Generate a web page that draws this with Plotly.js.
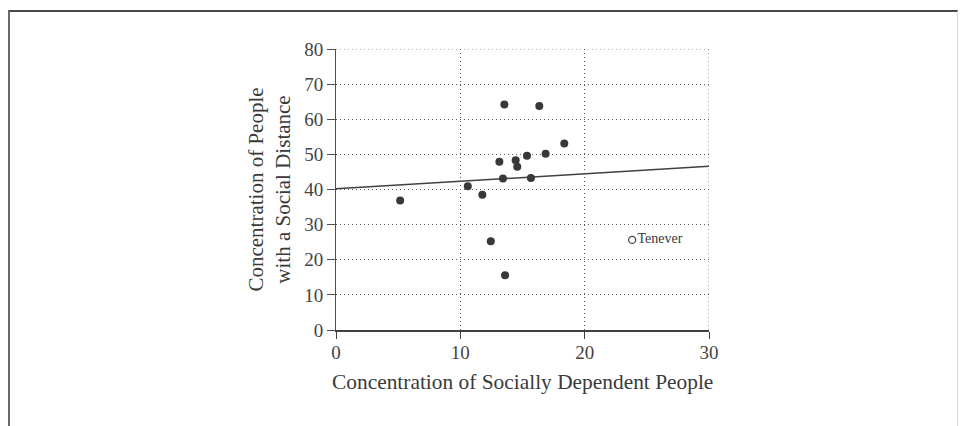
<!DOCTYPE html>
<html>
<head>
<meta charset="utf-8">
<script src="https://cdn.plot.ly/plotly-3.0.1.min.js"></script>
<style>
  html, body { margin: 0; padding: 0; background: #ffffff; }
  #wrap { position: relative; width: 960px; height: 426px; overflow: hidden; }
  #chart { position: absolute; left: 0; top: 0; width: 960px; height: 426px; }
  #frame { position: absolute; left: 8px; top: 10px; width: 947px; height: 430px;
           border-top: 2px solid #4a4a4a; border-left: 2px solid #6a6a6a; border-right: 1px solid #d8d8d8;
           pointer-events: none; }
</style>
</head>
<body>
<div id="wrap">
  <div id="chart"></div>
  <div id="frame"></div>
</div>
<script>
// Districts: concentration of socially dependent people (x) vs. people with a social distance (y)
const dependentPct = [5.16, 10.6, 11.77, 12.45, 13.14, 13.43, 13.54, 13.6, 14.45, 14.58, 15.36, 15.68, 16.35, 16.86, 18.36];
const distancePct  = [36.9, 40.95, 38.5, 25.3, 47.9, 43.1, 64.2, 15.6, 48.3, 46.5, 49.6, 43.3, 63.8, 50.2, 53.1];

// Highlighted district
const teneverName = ["Tenever"];
const teneverX = [23.82];
const teneverY = [25.65];

// Regression line end points
const fitX = [0, 30];
const fitY = [40.2, 46.6];

// Axis ticks and titles
const xTicks = [0, 10, 20, 30];
const yTicks = [0, 10, 20, 30, 40, 50, 60, 70, 80];
const xTitle = 'Concentration of Socially Dependent People';
const yTitle = 'Concentration of People<br>with a Social Distance';

const serif = "'Liberation Serif', 'Times New Roman', serif";
const ink = '#3a3a3a';
const gridColor = '#5e5e5e';
const gridDash = '1px,3px';

const margin = { l: 336, r: 251, t: 49, b: 96, pad: 0 };
const plotH = 426 - margin.t - margin.b;

const traces = [
  {
    x: fitX, y: fitY, type: 'scatter', mode: 'lines',
    line: { color: '#404040', width: 1.5 }, hoverinfo: 'skip'
  },
  {
    x: dependentPct, y: distancePct, type: 'scatter', mode: 'markers',
    marker: { color: '#383838', size: 8, line: { width: 0 } }
  },
  {
    x: teneverX, y: teneverY, text: teneverName, type: 'scatter', mode: 'markers+text',
    textposition: 'middle right',
    textfont: { family: serif, size: 14, color: ink },
    marker: { symbol: 'circle-open', color: '#444444', size: 7, line: { width: 1.3 } }
  }
];

const gridStyle = { gridcolor: gridColor, gridwidth: 1, griddash: gridDash };

// Plotly drops grid lines that fall on the range edges; redraw the top and right ones
const edgeGrid = [
  { type: 'line', xref: 'paper', yref: 'y', x0: 0, x1: 1,
    y0: yTicks[yTicks.length - 1], y1: yTicks[yTicks.length - 1],
    line: { color: gridColor, width: 1, dash: gridDash }, layer: 'below' },
  { type: 'line', xref: 'x', yref: 'paper', y0: 0, y1: 1,
    x0: xTicks[xTicks.length - 1], x1: xTicks[xTicks.length - 1],
    line: { color: gridColor, width: 1, dash: gridDash }, layer: 'below' }
];

const layout = {
  width: 960, height: 426,
  margin: margin,
  paper_bgcolor: '#ffffff', plot_bgcolor: '#ffffff',
  showlegend: false,
  font: { family: serif, color: ink },
  shapes: edgeGrid,
  annotations: [{
    text: xTitle, xref: 'paper', yref: 'paper', x: 0.5, y: -52 / plotH,
    xanchor: 'center', yanchor: 'middle', showarrow: false,
    font: { family: serif, size: 21.4, color: ink }
  }],
  xaxis: Object.assign({
    range: [0, 30], tickvals: xTicks, ticktext: xTicks.map(String),
    showgrid: true, zeroline: false,
    showline: true, linecolor: '#404040', linewidth: 2,
    ticks: 'outside', ticklen: 7, tickwidth: 1, tickcolor: '#404040',
    ticklabelstandoff: -3,
    tickfont: { family: serif, size: 19, color: '#444444' },
    automargin: false, fixedrange: true
  }, gridStyle),
  yaxis: Object.assign({
    range: [0, 80], tickvals: yTicks, ticktext: yTicks.map(String),
    showgrid: true, zeroline: false,
    showline: true, linecolor: '#505050', linewidth: 1,
    ticks: 'outside', ticklen: 8, tickwidth: 1, tickcolor: '#505050',
    tickfont: { family: serif, size: 19, color: '#444444' },
    title: { text: yTitle, font: { family: serif, size: 21, color: ink }, standoff: 7 },
    automargin: false, fixedrange: true
  }, gridStyle)
};

Plotly.newPlot('chart', traces, layout, { displayModeBar: false, staticPlot: true });
</script>
</body>
</html>
